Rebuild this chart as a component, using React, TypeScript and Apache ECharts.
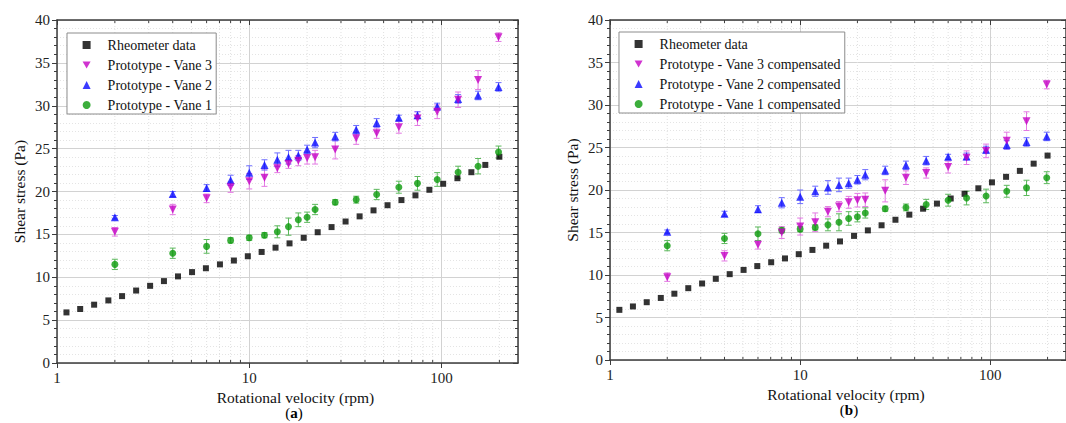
import React, { useEffect, useRef } from 'react';
import * as echarts from 'echarts';

// ---------- data ----------
const rheoRpm = [1.12, 1.32, 1.56, 1.85, 2.18, 2.58, 3.05, 3.6, 4.26, 5.04, 5.95, 7.04, 8.32, 9.83, 11.6, 13.7, 16.2, 19.2, 22.7, 26.8, 31.7, 37.5, 44.3, 52.4, 61.9, 73.2, 86.5, 102, 121, 143, 169, 200];
const rheoStress = [5.9, 6.3, 6.8, 7.3, 7.8, 8.45, 9.0, 9.55, 10.1, 10.6, 11.05, 11.5, 11.95, 12.45, 12.95, 13.45, 13.95, 14.6, 15.25, 15.85, 16.5, 17.1, 17.8, 18.4, 19.0, 19.55, 20.2, 20.9, 21.55, 22.25, 23.1, 24.05];

const vaneRpm = [2, 4, 6, 8, 10, 12, 14, 16, 18, 20, 22, 28, 36, 46, 60, 75, 95, 122, 155, 198];

// panel (a)
const vane3 = [15.3, 17.9, 19.2, 20.5, 21.2, 21.6, 22.7, 23.2, 23.6, 23.9, 24.0, 24.9, 26.2, 26.8, 27.5, 28.5, 29.3, 30.7, 33.0, 38.0];
const vane3Err = [0.5, 0.6, 0.5, 0.6, 0.9, 1.0, 0.5, 0.5, 0.6, 0.7, 0.8, 1.1, 0.7, 0.6, 0.7, 0.8, 0.8, 0.9, 1.1, 0.5];
const vane2 = [17.0, 19.7, 20.4, 21.3, 22.2, 23.1, 23.7, 24.0, 24.2, 24.9, 25.7, 26.4, 27.2, 28.0, 28.6, 28.9, 29.9, 30.8, 31.2, 32.2];
const vane2Err = [0.2, 0.3, 0.4, 0.6, 0.8, 0.6, 0.8, 0.8, 0.6, 0.5, 0.6, 0.5, 0.5, 0.5, 0.3, 0.4, 0.4, 0.5, 0.5, 0.5];
const vane1 = [11.5, 12.8, 13.6, 14.3, 14.6, 14.9, 15.3, 15.9, 16.7, 17.0, 17.9, 18.75, 19.05, 19.65, 20.5, 20.95, 21.4, 22.25, 22.95, 24.6];
const vane1Err = [0.6, 0.6, 0.8, 0.3, 0.3, 0.3, 0.7, 1.0, 0.8, 0.6, 0.6, 0.3, 0.4, 0.6, 0.7, 0.8, 0.8, 0.7, 0.9, 0.7];

// panel (b)
const vane3c = [9.75, 12.25, 13.55, 15.0, 15.7, 16.2, 17.45, 18.05, 18.55, 18.8, 18.85, 19.9, 21.45, 22.0, 22.7, 23.8, 24.6, 25.8, 28.1, 32.4];
const vane3cErr = [0.5, 0.6, 0.5, 0.7, 1.0, 1.1, 0.6, 0.6, 0.7, 0.8, 0.8, 1.3, 0.8, 0.6, 0.7, 0.8, 0.8, 1.0, 1.1, 0.5];
const vane2c = [15.1, 17.2, 17.75, 18.5, 19.2, 19.85, 20.3, 20.6, 20.8, 21.2, 21.8, 22.3, 22.9, 23.45, 23.9, 23.95, 24.75, 25.3, 25.65, 26.3];
const vane2cErr = [0.2, 0.3, 0.4, 0.6, 0.8, 0.6, 0.8, 0.8, 0.6, 0.5, 0.6, 0.5, 0.5, 0.5, 0.3, 0.4, 0.4, 0.5, 0.5, 0.5];
const vane1c = [13.45, 14.3, 14.85, 15.25, 15.4, 15.6, 15.9, 16.2, 16.65, 16.85, 17.3, 17.8, 17.95, 18.3, 18.8, 19.05, 19.3, 19.85, 20.25, 21.45];
const vane1cErr = [0.6, 0.6, 0.8, 0.3, 0.3, 0.3, 0.7, 1.0, 0.8, 0.6, 0.6, 0.3, 0.4, 0.6, 0.7, 0.8, 0.8, 0.7, 0.9, 0.7];

const xMajorLabels = [1, 10, 100];
const xMinorTicks = [2, 3, 4, 5, 6, 7, 8, 9, 20, 30, 40, 50, 60, 70, 80, 90, 200];

const namesA = ['Rheometer data', 'Prototype - Vane 3', 'Prototype - Vane 2', 'Prototype - Vane 1'];
const namesB = ['Rheometer data', 'Prototype - Vane 3 compensated', 'Prototype - Vane 2 compensated', 'Prototype - Vane 1 compensated'];

// ---------- styles ----------
const FONT = "'Liberation Serif', 'Times New Roman', serif";
const AX = '#3c3c3c';
const C_BLACK = '#000000';
const C_MAG = '#c400c4';
const C_BLUE = '#0a0aff';
const C_GREEN = '#0b9a0b';
const E_MAG = '#e37ae3';
const E_BLUE = '#6f6fff';
const E_GREEN = '#5cb85c';
const DOWN_TRI = 'path://M0,0L10,0L5,8.66Z';

const pairs = (xs: number[], ys: number[]) => xs.map((x, i) => [x, ys[i]]);
const errData = (xs: number[], ys: number[], es: number[]) => xs.map((x, i) => [x, ys[i] - es[i], ys[i] + es[i]]);

const errorRender = (color: string) => (params: any, api: any) => {
  const x = api.value(0);
  const p1 = api.coord([x, api.value(1)]);
  const p2 = api.coord([x, api.value(2)]);
  const w = 3;
  const st = { stroke: color, lineWidth: 1 };
  return {
    type: 'group',
    children: [
      { type: 'line', shape: { x1: p1[0], y1: p1[1], x2: p2[0], y2: p2[1] }, style: st },
      { type: 'line', shape: { x1: p1[0] - w, y1: p1[1], x2: p1[0] + w, y2: p1[1] }, style: st },
      { type: 'line', shape: { x1: p2[0] - w, y1: p2[1], x2: p2[0] + w, y2: p2[1] }, style: st },
    ],
  };
};

const minorRender = (params: any, api: any) => {
  const p = api.coord([api.value(0), 0]);
  const cs = params.coordSys;
  const top = cs.y;
  const bot = cs.y + cs.height;
  return {
    type: 'group',
    children: [
      { type: 'line', shape: { x1: p[0], y1: top, x2: p[0], y2: bot }, style: { stroke: '#e0e0e0', lineWidth: 1, lineDash: [1, 2] } },
      { type: 'line', shape: { x1: p[0], y1: bot, x2: p[0], y2: bot - 3 }, style: { stroke: AX, lineWidth: 1 } },
      { type: 'line', shape: { x1: p[0], y1: top, x2: p[0], y2: top + 3 }, style: { stroke: AX, lineWidth: 1 } },
    ],
  };
};

function makeAxes(g: number) {
  const xBottom = {
    type: 'log', gridIndex: g, logBase: 10, min: 1, max: 250, position: 'bottom',
    axisLine: { show: true, onZero: false, lineStyle: { color: AX, width: 1.5 } },
    axisTick: { show: true, inside: false, length: 5, lineStyle: { color: AX } },
    axisLabel: {
      show: true, margin: 7, color: '#222', fontFamily: FONT, fontSize: 15, showMaxLabel: false,
      formatter: (v: number) => (xMajorLabels.some((m) => Math.abs(m - v) < 1e-6) ? String(Math.round(v)) : ''),
    },
    splitLine: { show: true, lineStyle: { color: '#d2d2d2', width: 1 } },
    name: 'Rotational velocity (rpm)', nameLocation: 'middle', nameGap: 21,
    nameTextStyle: { fontFamily: FONT, fontSize: 15.5, color: '#111', padding: [0, 0, 0, 16] },
  };
  const xTop = {
    type: 'log', gridIndex: g, logBase: 10, min: 1, max: 250, position: 'top',
    axisLine: { show: true, onZero: false, lineStyle: { color: AX, width: 1.5 } },
    axisTick: { show: true, inside: true, length: 5, lineStyle: { color: AX } },
    axisLabel: { show: false },
    splitLine: { show: false },
  };
  const yLeft = {
    type: 'value', gridIndex: g, min: 0, max: 40, interval: 5, position: 'left',
    axisLine: { show: true, lineStyle: { color: AX, width: 1.5 } },
    axisTick: { show: true, inside: false, length: 5, lineStyle: { color: AX } },
    minorTick: { show: true, splitNumber: 5, length: 3, lineStyle: { color: AX } },
    axisLabel: { show: true, margin: 7, color: '#222', fontFamily: FONT, fontSize: 15 },
    splitLine: { show: true, lineStyle: { color: '#d2d2d2', width: 1 } },
    minorSplitLine: { show: true, lineStyle: { color: '#e4e4e4', width: 1, type: [1, 2] } },
    name: 'Shear stress (Pa)', nameLocation: 'middle', nameGap: 30,
    nameTextStyle: { fontFamily: FONT, fontSize: 15.5, color: '#111' },
  };
  const yRight = {
    type: 'value', gridIndex: g, min: 0, max: 40, interval: 5, position: 'right',
    axisLine: { show: true, lineStyle: { color: AX, width: 1.5 } },
    axisTick: { show: true, inside: true, length: 5, lineStyle: { color: AX } },
    minorTick: { show: true, splitNumber: 5, length: 3, lineStyle: { color: AX } },
    axisLabel: { show: false },
    splitLine: { show: false },
  };
  return { x: [xBottom, xTop], y: [yLeft, yRight] };
}

function panelSeries(g: number, names: string[], sets: { ys: number[]; es: number[]; color: string; ecolor: string; symbol: string; rotate: number; size: number }[]) {
  const xi = g * 2;
  const yi = g * 2;
  const out: any[] = [
    {
      type: 'custom', xAxisIndex: xi, yAxisIndex: yi, silent: true, z: 1, clip: false,
      renderItem: minorRender, data: xMinorTicks.map((v) => [v, 0]), encode: { x: 0, y: 1 },
    },
  ];
  sets.forEach((s) => {
    out.push({
      type: 'custom', xAxisIndex: xi, yAxisIndex: yi, silent: true, z: 2,
      renderItem: errorRender(s.ecolor), data: errData(vaneRpm, s.ys, s.es), encode: { x: 0, y: [1, 2] },
    });
  });
  out.push({
    type: 'scatter', name: names[0], xAxisIndex: xi, yAxisIndex: yi, z: 3,
    symbol: 'rect', symbolSize: 6, itemStyle: { color: C_BLACK },
    data: pairs(rheoRpm, rheoStress),
  });
  [2, 1, 0].forEach((k) => {
    const s = sets[k];
    out.push({
      type: 'scatter', name: names[k + 1], xAxisIndex: xi, yAxisIndex: yi, z: 3,
      symbol: s.symbol, symbolRotate: s.rotate, symbolSize: s.size,
      itemStyle: { color: s.color },
      data: pairs(vaneRpm, s.ys),
    });
  });
  return out;
}

function legendFor(names: string[], left: number, top: number) {
  return {
    data: names.map((n, i) => (i === 1 ? { name: n, icon: DOWN_TRI } : { name: n })),
    orient: 'vertical', left, top, itemWidth: 8, itemHeight: 8, itemGap: 6,
    padding: [5, 4, 2, 15.6], backgroundColor: '#ffffff', borderColor: '#8c8c8c', borderWidth: 1,
    selectedMode: false,
    textStyle: { fontFamily: FONT, fontSize: 14, color: '#111', lineHeight: 14, padding: [0, 0, 0, 12] },
  };
}

export default function App() {
  const ref = useRef<HTMLDivElement>(null);
  useEffect(() => {
    if (!ref.current) return;
    const chart = echarts.init(ref.current, undefined, { renderer: 'svg' });
    const a = makeAxes(0);
    const b = makeAxes(1);
    const setsA = [
      { ys: vane3, es: vane3Err, color: C_MAG, ecolor: E_MAG, symbol: 'triangle', rotate: 180, size: 8 },
      { ys: vane2, es: vane2Err, color: C_BLUE, ecolor: E_BLUE, symbol: 'triangle', rotate: 0, size: 8 },
      { ys: vane1, es: vane1Err, color: C_GREEN, ecolor: E_GREEN, symbol: 'circle', rotate: 0, size: 7 },
    ];
    const setsB = [
      { ys: vane3c, es: vane3cErr, color: C_MAG, ecolor: E_MAG, symbol: 'triangle', rotate: 180, size: 8 },
      { ys: vane2c, es: vane2cErr, color: C_BLUE, ecolor: E_BLUE, symbol: 'triangle', rotate: 0, size: 8 },
      { ys: vane1c, es: vane1cErr, color: C_GREEN, ecolor: E_GREEN, symbol: 'circle', rotate: 0, size: 7 },
    ];
    const rich = {
      n: { fontFamily: FONT, fontSize: 15, fill: '#000' },
      b: { fontFamily: FONT, fontSize: 15, fontWeight: 'bold', fill: '#000' },
    };
    chart.setOption({
      animation: false,
      backgroundColor: '#ffffff',
      grid: [
        { left: 57, top: 20, width: 461, height: 343, containLabel: false },
        { left: 610, top: 20, width: 460, height: 340, containLabel: false },
      ],
      xAxis: [...a.x, ...b.x],
      yAxis: [...a.y, ...b.y],
      legend: [legendFor(namesA, 67, 33), legendFor(namesB, 619, 32)],
      series: [...panelSeries(0, namesA, setsA), ...panelSeries(1, namesB, setsB)],
      graphic: [
        { type: 'text', x: 294, y: 413, style: { text: '{n|(}{b|a}{n|)}', rich, align: 'center', verticalAlign: 'middle' } },
        { type: 'text', x: 849, y: 410, style: { text: '{n|(}{b|b}{n|)}', rich, align: 'center', verticalAlign: 'middle' } },
      ],
    });
    return () => chart.dispose();
  }, []);
  return (
    <div
      ref={ref}
      style={{ position: 'absolute', left: 0, top: 0, width: 1066, height: 423, background: '#fff' }}
    />
  );
}
